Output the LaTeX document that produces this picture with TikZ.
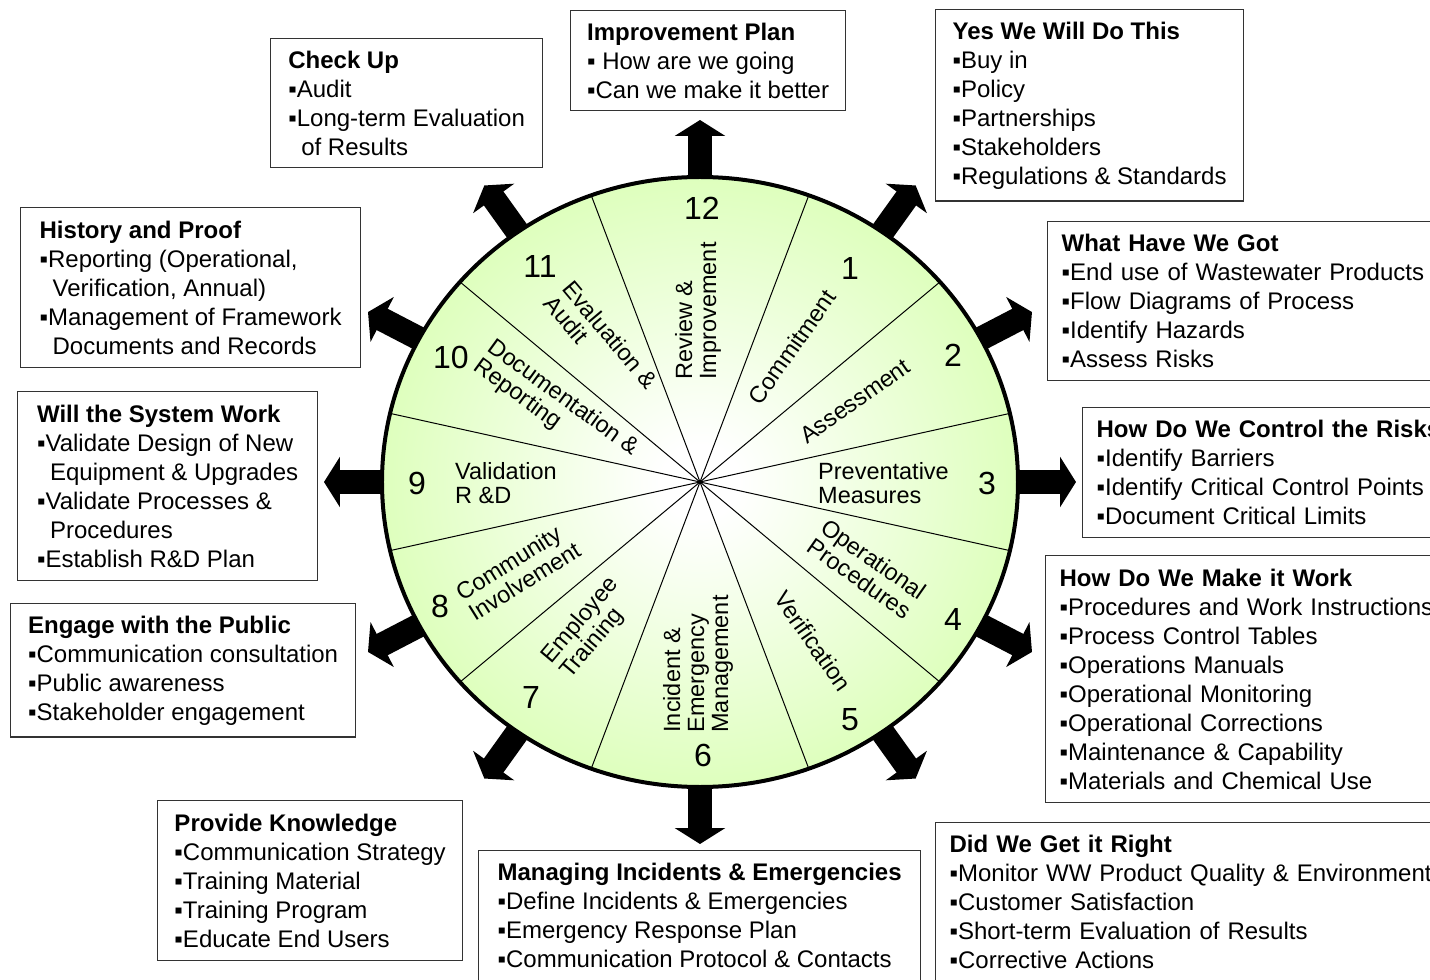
\documentclass[tikz,border=0pt]{standalone}
\usepackage{fontspec}
\setmainfont{Liberation Sans}
\usetikzlibrary{arrows.meta}
\definecolor{wheelgreen}{RGB}{204,255,153}
\pgfdeclareradialshading{wheelshade}{\pgfpoint{0bp}{0bp}}{color(0bp)=(white); color(3bp)=(white); color(37bp)=(wheelgreen); color(50bp)=(wheelgreen)}
\tikzset{
boxstyle/.style= {rectangle, draw=black!80, line width=1.3pt, align=left, anchor=north west, inner xsep=14pt, inner ysep=12pt, font=\fontsize{24pt}{29pt}\selectfont},
wheelstyle/.style= {align=left, inner sep=0pt, font=\fontsize{23.5pt}{24pt}\selectfont},
numstyle/.style= {inner sep=0pt, font=\fontsize{32pt}{32pt}\selectfont},
bigarrow/.style= {line width=24pt, -{Triangle[length=16pt 0 0, width=50pt 0 0]}},
divider/.style= {line width=1pt}
}
\newcommand{\bul}{▪}
\newcommand{\ind}{\hspace*{13pt}}

\begin{document}
\begin{tikzpicture}[x=1pt, y=1pt]
\useasboundingbox (-700,-498) rectangle (730,482);
\clip (-700,-498) rectangle (730,482);
\coordinate (c) at (0,0);

% arrows out of the wheel
\foreach \a [count=\i] in {90,55,28,0,-28,-55,-90,-125,-152,180,152,125}{
  \coordinate (s\i) at (\a:290 and 278);
  \coordinate (e\i) at (\a:376 and 362);
  \draw[bigarrow] (s\i) -- (e\i);
}

% wheel
\shade[shading=wheelshade] (c) ellipse [x radius=318, y radius=305];
\foreach \a [count=\i] in {70,41,13,-13,-41,-70,-110,-139,-167,167,139,110}{
  \coordinate (r\i) at (\a:318 and 305);
  \draw[divider] (c) -- (r\i);
}
\draw[line width=4pt] (c) ellipse [x radius=318, y radius=305];

\node[numstyle] (n12) at (2,274) {12};
\node[numstyle] (n1) at (150,214) {1};
\node[numstyle] (n2) at (253,127) {2};
\node[numstyle] (n3) at (287,-1) {3};
\node[numstyle] (n4) at (253,-137) {4};
\node[numstyle] (n5) at (150,-238) {5};
\node[numstyle] (n6) at (3,-273) {6};
\node[numstyle] (n7) at (-169,-215) {7};
\node[numstyle] (n8) at (-260,-124) {8};
\node[numstyle] (n9) at (-283,-1) {9};
\node[numstyle] (n10) at (-249,125) {10};
\node[numstyle] (n11) at (-160,216) {11};

\node[wheelstyle, rotate=90] (w12) at (-2,171) {Review \&\\Improvement};
\node[wheelstyle, rotate=55] (w1) at (92,135) {Commitment};
\node[wheelstyle, rotate=35] (w2) at (155,81) {Assessment};
\node[wheelstyle, anchor=west] (w3) at (118,-1) {Preventative\\Measures};
\node[wheelstyle, rotate=-35] (w4) at (167,-87) {Operational\\Procedures};
\node[wheelstyle, rotate=-55] (w5) at (113,-159) {Verification};
\node[wheelstyle, rotate=90] (w6) at (-2,-182) {Incident \&\\Emergency\\Management};
\node[wheelstyle, rotate=50] (w7) at (-110,-146) {Employee\\Training};
\node[wheelstyle, rotate=32] (w8) at (-182,-89) {Community\\Involvement};
\node[wheelstyle, anchor=west] (w9) at (-245,-1) {Validation\\R \&D};
\node[wheelstyle, rotate=-36] (w10) at (-144,74) {Documentation \&\\Reporting};
\node[wheelstyle, rotate=-50] (w11) at (-99,140) {Evaluation \&\\Audit};

% boxes round the wheel
\node[boxstyle, minimum width=275, minimum height=100] (plan) at (-130,472)
  {\textbf{Improvement Plan}\\\bul\ How are we going\\\bul Can we make it better};
\node[boxstyle, minimum width=308, minimum height=186] (yes) at (235,473)
  {\textbf{Yes We Will Do This}\\\bul Buy in\\\bul Policy\\\bul Partnerships\\\bul Stakeholders\\\bul Regulations \& Standards};
\node[boxstyle, minimum width=272, minimum height=128] (check) at (-430,444)
  {\textbf{Check Up}\\\bul Audit\\\bul Long-term Evaluation\\\ind of Results};
\node[boxstyle, minimum width=340, minimum height=160] (history) at (-680,275)
  {\textbf{History and Proof}\\\bul Reporting (Operational,\\\ind Verification, Annual)\\\bul Management of Framework\\\ind Documents and Records};
\node[boxstyle, text width=420, minimum height=159] (have) at (347,261)
  {\textbf{What Have We Got}\\\bul End use of Wastewater Products\\\bul Flow Diagrams of Process\\\bul Identify Hazards\\\bul Assess Risks};
\node[boxstyle, minimum width=300, minimum height=189] (work) at (-683,91)
  {\textbf{Will the System Work}\\\bul Validate Design of New\\\ind Equipment \& Upgrades\\\bul Validate Processes \&\\\ind Procedures\\\bul Establish R\&D Plan};
\node[boxstyle, text width=400, minimum height=130] (control) at (382,75)
  {\textbf{How Do We Control the Risks}\\\bul Identify Barriers\\\bul Identify Critical Control Points\\\bul Document Critical Limits};
\node[boxstyle, minimum width=345, minimum height=131] (public) at (-690,-121)
  {\textbf{Engage with the Public}\\\bul Communication consultation\\\bul Public awareness\\\bul Stakeholder engagement};
\node[boxstyle, text width=420, minimum height=247] (make) at (345,-73)
  {\textbf{How Do We Make it Work}\\\bul Procedures and Work Instructions\\\bul Process Control Tables\\\bul Operations Manuals\\\bul Operational Monitoring\\\bul Operational Corrections\\\bul Maintenance \& Capability\\\bul Materials and Chemical Use};
\node[boxstyle, minimum width=305, minimum height=160] (knowledge) at (-543,-318)
  {\textbf{Provide Knowledge}\\\bul Communication Strategy\\\bul Training Material\\\bul Training Program\\\bul Educate End Users};
\node[boxstyle, minimum width=442] (incidents) at (-222,-368)
  {\textbf{Managing Incidents \& Emergencies}\\\bul Define Incidents \& Emergencies\\\bul Emergency Response Plan\\\bul Communication Protocol \& Contacts\\\mbox{}};
\node[boxstyle, text width=520] (right) at (235,-340)
  {\textbf{Did We Get it Right}\\\bul Monitor WW Product Quality \& Environment\\\bul Customer Satisfaction\\\bul Short-term Evaluation of Results\\\bul Corrective Actions\\\mbox{}};
\end{tikzpicture}
\end{document}
